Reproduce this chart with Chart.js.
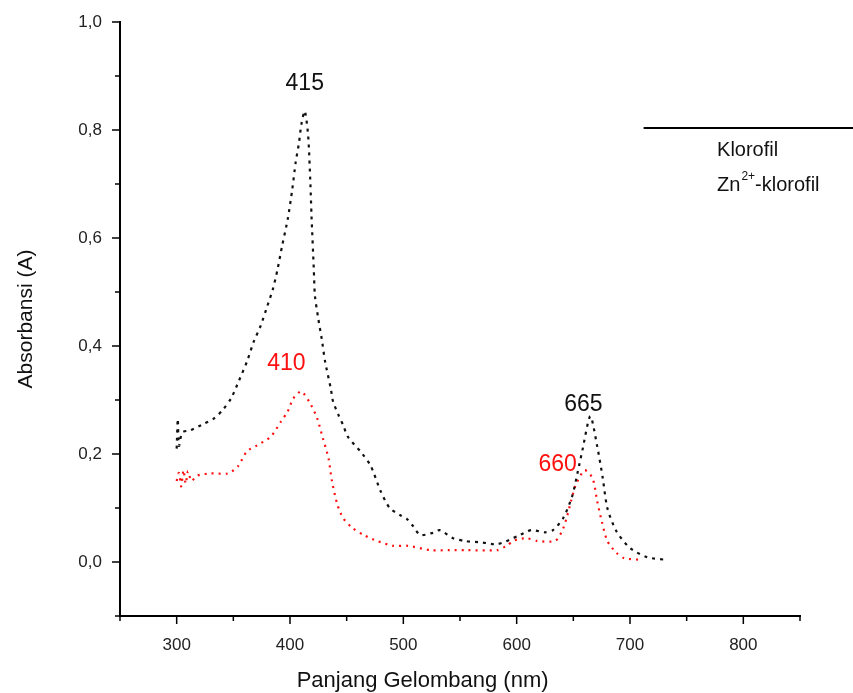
<!DOCTYPE html>
<html>
<head>
<meta charset="utf-8">
<script src="https://cdn.jsdelivr.net/npm/chart.js@4.4.0/dist/chart.umd.min.js"></script>
<style>
    html, body { margin: 0; padding: 0; background: #fff; }
    #wrap { width: 853px; height: 693px; }
</style>
</head>
<body>
<div id="wrap"><canvas id="spektrumChart"></canvas></div>
<script>
// Spektrum klorofil (hitam)
const klorofilNm = [300, 301, 302, 305, 312, 324, 333, 340, 348, 355, 362, 368, 374, 380, 385, 389, 393, 398, 402, 405, 408, 410, 413, 416, 418, 419, 421, 422, 425, 428, 431, 436, 438, 443, 447, 451, 462, 471, 480, 488, 497, 503, 508, 515, 526, 532, 544, 554, 570, 583, 601, 613, 625, 632, 641, 649, 654, 658, 665, 671, 676, 680, 688, 700, 715, 732];
const klorofilAbs = [0.21, 0.265, 0.215, 0.24, 0.244, 0.256, 0.266, 0.28, 0.303, 0.336, 0.371, 0.408, 0.437, 0.474, 0.506, 0.542, 0.585, 0.635, 0.69, 0.74, 0.777, 0.81, 0.835, 0.79, 0.70, 0.64, 0.542, 0.493, 0.45, 0.413, 0.371, 0.321, 0.297, 0.271, 0.253, 0.232, 0.205, 0.179, 0.131, 0.10, 0.087, 0.08, 0.068, 0.05, 0.054, 0.059, 0.044, 0.039, 0.036, 0.033, 0.048, 0.059, 0.055, 0.059, 0.081, 0.122, 0.168, 0.207, 0.27, 0.215, 0.155, 0.10, 0.057, 0.026, 0.009, 0.004];

// Spektrum Zn2+-klorofil (merah)
const znNm = [300, 302, 304, 306, 308, 310, 313, 318, 330, 345, 354, 362, 371, 383, 392, 398, 403, 410, 418, 424, 429, 434, 437, 442, 447, 455, 465, 477, 491, 504, 524, 541, 556, 583, 591, 598, 609, 618, 634, 640, 644, 648, 652, 660, 667, 671, 675, 680, 688, 695, 710];
const znAbs = [0.15, 0.165, 0.14, 0.17, 0.145, 0.168, 0.15, 0.16, 0.164, 0.164, 0.177, 0.205, 0.216, 0.232, 0.26, 0.279, 0.303, 0.316, 0.293, 0.266, 0.229, 0.192, 0.15, 0.105, 0.081, 0.063, 0.05, 0.039, 0.03, 0.03, 0.022, 0.022, 0.022, 0.022, 0.03, 0.04, 0.044, 0.039, 0.039, 0.057, 0.081, 0.113, 0.142, 0.17, 0.155, 0.113, 0.076, 0.039, 0.017, 0.007, 0.004];

// Label puncak
const puncakNm = [413, 410, 665, 660];
const puncakSeri = [0, 1, 0, 1];
const puncakTeks = ['415', '410', '665', '660'];

const legendTeks = ['Klorofil', 'Zn'];

const FONT = "'Liberation Sans', Arial, sans-serif";

function toPoints(xs, ys) {
    return xs.map((x, i) => ({ x: x, y: ys[i] }));
}

// posisi label relatif terhadap titik puncak (px)
const puncakGeser = [[0, -27], [-15, -28], [-7, -12], [-27, -6]];

const anotasiPlugin = {
    id: 'anotasi',
    afterDraw(chart) {
        const ctx = chart.ctx;
        const xs = chart.scales.x;
        const ys = chart.scales.y;
        const area = chart.chartArea;
        ctx.save();

        // tick mayor & minor (keluar)
        ctx.strokeStyle = '#000';
        ctx.lineWidth = 1.5;
        for (let v = 250; v <= 850; v += 50) {
            const px = xs.getPixelForValue(v);
            const len = (v % 100 === 0) ? 8 : 5;
            ctx.beginPath();
            ctx.moveTo(px, area.bottom);
            ctx.lineTo(px, area.bottom + len);
            ctx.stroke();
        }
        for (let k = -1; k <= 10; k++) {
            const py = ys.getPixelForValue(k / 10);
            const len = (k % 2 === 0) ? 8 : 5;
            ctx.beginPath();
            ctx.moveTo(area.left, py);
            ctx.lineTo(area.left - len, py);
            ctx.stroke();
        }

        // label puncak
        ctx.font = '23px ' + FONT;
        ctx.textAlign = 'center';
        ctx.textBaseline = 'middle';
        puncakNm.forEach((nm, i) => {
            const ds = chart.data.datasets[puncakSeri[i]];
            const pt = ds.data.find(p => p.x === nm);
            const px = xs.getPixelForValue(pt.x) + puncakGeser[i][0];
            const py = ys.getPixelForValue(pt.y) + puncakGeser[i][1];
            ctx.fillStyle = ds.borderColor;
            ctx.fillText(puncakTeks[i], px, py);
        });

        // legenda
        ctx.strokeStyle = '#000';
        ctx.lineWidth = 2;
        ctx.beginPath();
        ctx.moveTo(area.left + 0.77 * area.width, area.top + 106);
        ctx.lineTo(chart.width, area.top + 106);
        ctx.stroke();
        ctx.fillStyle = '#111';
        ctx.textAlign = 'left';
        ctx.textBaseline = 'middle';
        ctx.font = '20px ' + FONT;
        const lx = area.left + 0.878 * area.width;
        ctx.fillText(legendTeks[0], lx, area.top + 128);
        ctx.fillText(legendTeks[1], lx, area.top + 163);
        const wZn = ctx.measureText(legendTeks[1]).width;
        ctx.font = '12px ' + FONT;
        ctx.fillText('2+', lx + wZn + 1, area.top + 155);
        const wSup = ctx.measureText('2+').width;
        ctx.font = '20px ' + FONT;
        ctx.fillText('-klorofil', lx + wZn + wSup + 1, area.top + 163);

        // judul sumbu x
        ctx.font = '22px ' + FONT;
        ctx.textAlign = 'center';
        ctx.fillText('Panjang Gelombang (nm)', area.left + 0.445 * area.width, chart.height - 12);
        ctx.restore();
    }
};

const ctx = document.getElementById('spektrumChart').getContext('2d');
const spektrumChart = new Chart(ctx, {
    type: 'scatter',
    data: {
        datasets: [{
            label: 'Klorofil',
            data: toPoints(klorofilNm, klorofilAbs),
            showLine: true,
            borderColor: '#111111',
            borderWidth: 2.2,
            borderDash: [3, 5],
            pointRadius: 0,
            tension: 0.25
        }, {
            label: 'Zn2+-klorofil',
            data: toPoints(znNm, znAbs),
            showLine: true,
            borderColor: '#ff1010',
            borderWidth: 2.2,
            borderDash: [2, 5],
            pointRadius: 0,
            tension: 0.25
        }]
    },
    options: {
        responsive: true,
        maintainAspectRatio: false,
        animation: false,
        layout: { padding: { top: 22, right: 53, left: 0, bottom: 0 } },
        plugins: {
            legend: { display: false },
            tooltip: { enabled: false }
        },
        scales: {
            x: {
                type: 'linear',
                min: 250,
                max: 850,
                afterFit: s => { s.height = 77; },
                border: { display: true, color: '#000', width: 2 },
                grid: { drawOnChartArea: false, drawTicks: true, tickLength: 8, tickColor: 'rgba(0,0,0,0)' },
                ticks: {
                    stepSize: 50,
                    padding: 11,
                    color: '#222',
                    font: { family: FONT, size: 17 },
                    callback: v => (v % 100 === 0 && v > 250 && v < 850) ? String(v) : ''
                },
                title: { display: false }
            },
            y: {
                type: 'linear',
                min: -0.1,
                max: 1.0,
                afterFit: s => { s.width = 120; },
                border: { display: true, color: '#000', width: 2 },
                grid: { drawOnChartArea: false, drawTicks: true, tickLength: 8, tickColor: 'rgba(0,0,0,0)' },
                ticks: {
                    stepSize: 0.1,
                    padding: 10,
                    color: '#222',
                    font: { family: FONT, size: 17 },
                    callback: v => {
                        const k = Math.round(v * 10);
                        return (k >= 0 && k % 2 === 0) ? (k / 10).toFixed(1).replace('.', ',') : '';
                    }
                },
                title: {
                    display: true,
                    text: 'Absorbansi (A)',
                    color: '#111',
                    font: { family: FONT, size: 21 },
                    padding: { top: 14, bottom: 0 }
                }
            }
        }
    },
    plugins: [anotasiPlugin]
});
</script>
</body>
</html>
